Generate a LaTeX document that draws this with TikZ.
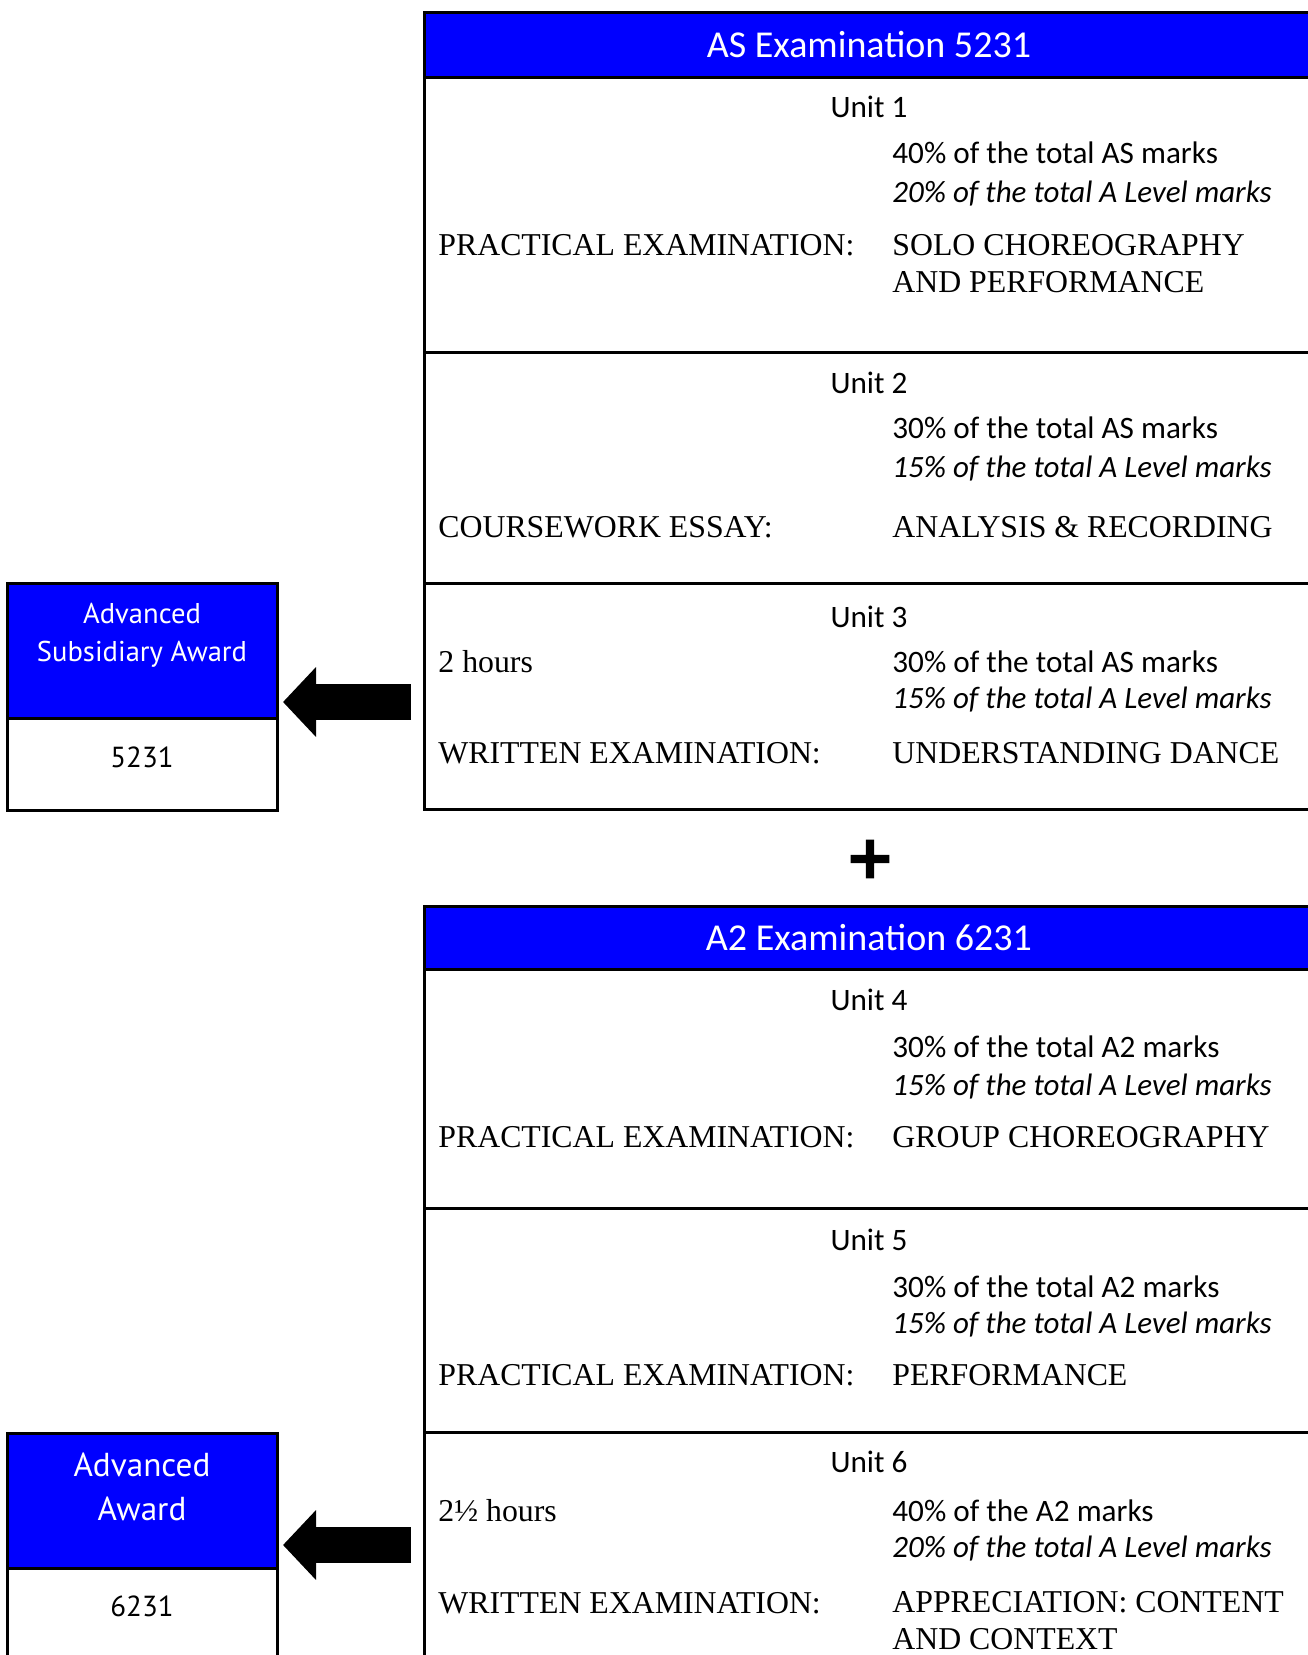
\documentclass[tikz,border=0pt]{standalone}
\usepackage{fontspec}
\setmainfont{Liberation Serif}
\newfontfamily\unitfont{Carlito}
\newfontfamily\awardfont{PT Sans}
\newfontfamily\plusfont[FakeBold=2]{DejaVu Sans Bold}
\usepackage{xcolor}
\usepackage{tikz}
\usetikzlibrary{arrows.meta,positioning,calc}
\definecolor{exblue}{RGB}{0,0,255}

\begin{document}
\begin{tikzpicture}[
				x=0.5pt, y=-0.5pt,
				head/.style={rectangle, draw, line width=1.5pt, fill=exblue, text=white, inner sep=0pt, outer sep=0pt, minimum width=445pt, text height=12.5pt, text depth=0pt, font=\unitfont\fontsize{19}{23}\selectfont},
				unitrow/.style={rectangle, draw, line width=1.5pt, inner sep=0pt, outer sep=0pt, minimum width=445pt},
				unitlabel/.style={inner sep=0pt, anchor=base, font=\unitfont\fontsize{15.6}{19}\selectfont},
				marks/.style={inner sep=0pt, anchor=base west, font=\unitfont\fontsize{15.6}{19}\selectfont},
				alevel/.style={inner sep=0pt, anchor=base west, font=\unitfont\itshape\fontsize{15.5}{19}\selectfont},
				paper/.style={inner sep=0pt, anchor=base west, align=left, font=\fontsize{15.9}{18.5}\selectfont},
				awardbox/.style={rectangle, draw, line width=1.5pt, fill=exblue, inner sep=0pt, outer sep=0pt, minimum width=135pt, minimum height=67.5pt},
				codebox/.style={rectangle, draw, line width=1.5pt, inner sep=0pt, outer sep=0pt, minimum width=135pt, text height=8pt, text depth=5pt, font=\awardfont\fontsize{14.5}{17}\selectfont},
				awardtext/.style={inner sep=0pt, anchor=base, align=center, text=white},
				plussign/.style={inner sep=0pt, font=\plusfont\fontsize{30}{30}\selectfont},
				bigarrow/.style={line width=18pt, -{Triangle[length=16.5pt,width=34pt]}}
				]
				\useasboundingbox (0,0) rectangle (1307,1655);
				
				% AS examination
				\node (ashead) [head, minimum height=32.5pt] at (869,44.5) {AS Examination 5231};
				\node (u1) [unitrow, below=0pt of ashead, minimum height=137.5pt] {};
				\node (u2) [unitrow, below=0pt of u1, minimum height=115.5pt] {};
				\node (u3) [unitrow, below=0pt of u2, minimum height=113pt] {};
				
				\node (t1) [unitlabel] at (869,117) {Unit 1};
				\node (m1a) [marks] at (892,163) {40\% of the total AS marks};
				\node (m1b) [alevel] at (892,202) {20\% of the total A Level marks};
				\node (p1) [paper] at (438,255) {PRACTICAL EXAMINATION:};
				\node (c1) [paper] at (892,292) {SOLO CHOREOGRAPHY\\AND PERFORMANCE};
				
				\node (t2) [unitlabel] at (869,393) {Unit 2};
				\node (m2a) [marks] at (892,438) {30\% of the total AS marks};
				\node (m2b) [alevel] at (892,477) {15\% of the total A Level marks};
				\node (p2) [paper] at (438,537) {COURSEWORK ESSAY:};
				\node (c2) [paper] at (892,537) {ANALYSIS \& RECORDING};
				
				\node (t3) [unitlabel] at (869,627) {Unit 3};
				\node (h3) [paper] at (438,672) {2 hours};
				\node (m3a) [marks] at (892,672) {30\% of the total AS marks};
				\node (m3b) [alevel] at (892,708) {15\% of the total A Level marks};
				\node (p3) [paper] at (438,763) {WRITTEN EXAMINATION:};
				\node (c3) [paper] at (892,763) {UNDERSTANDING DANCE};
				
				\node (plus) [plussign] at (870,859) {+};
				
				% A2 examination
				\node (a2head) [head, minimum height=31.5pt] at (869,937.5) {A2 Examination 6231};
				\node (u4) [unitrow, below=0pt of a2head, minimum height=119.5pt] {};
				\node (u5) [unitrow, below=0pt of u4, minimum height=112pt] {};
				\node (u6) [unitrow, below=0pt of u5, minimum height=120pt] {};
				
				\node (t4) [unitlabel] at (869,1010) {Unit 4};
				\node (m4a) [marks] at (892,1057) {30\% of the total A2 marks};
				\node (m4b) [alevel] at (892,1095) {15\% of the total A Level marks};
				\node (p4) [paper] at (438,1147) {PRACTICAL EXAMINATION:};
				\node (c4) [paper] at (892,1147) {GROUP CHOREOGRAPHY};
				
				\node (t5) [unitlabel] at (869,1250) {Unit 5};
				\node (m5a) [marks] at (892,1297) {30\% of the total A2 marks};
				\node (m5b) [alevel] at (892,1333) {15\% of the total A Level marks};
				\node (p5) [paper] at (438,1385) {PRACTICAL EXAMINATION:};
				\node (c5) [paper] at (892,1385) {PERFORMANCE};
				
				\node (t6) [unitlabel] at (869,1472) {Unit 6};
				\node (h6) [paper] at (438,1521) {2½ hours};
				\node (m6a) [marks] at (892,1521) {40\% of the A2 marks};
				\node (m6b) [alevel] at (892,1557) {20\% of the total A Level marks};
				\node (p6) [paper] at (438,1613) {WRITTEN EXAMINATION:};
				\node (c6) [paper] at (892,1649) {APPRECIATION: CONTENT\\AND CONTEXT};
				
				% awards
				\node (asaward) [awardbox] at (142,650.5) {};
				\node (ascode) [codebox, below=0pt of asaward, minimum height=46pt] {5231};
				\node (astitle) [awardtext, font=\awardfont\fontsize{14.3}{19}\selectfont] at (142,661) {Advanced\\Subsidiary Award};
				
				\node (aaward) [awardbox] at (142,1500.5) {};
				\node (acode) [codebox, below=0pt of aaward, minimum height=45pt] {6231};
				\node (atitle) [awardtext, font=\awardfont\fontsize{16.6}{22}\selectfont] at (142,1520) {Advanced\\Award};
				
				\draw [bigarrow] ($(u3.west)+(-13,6)$) -- ($(u3.west -| asaward.east)+(6,6)$);
				\draw [bigarrow] ($(u6.west)+(-13,-7)$) -- ($(u6.west -| aaward.east)+(6,-7)$);
			\end{tikzpicture}
\end{document}
